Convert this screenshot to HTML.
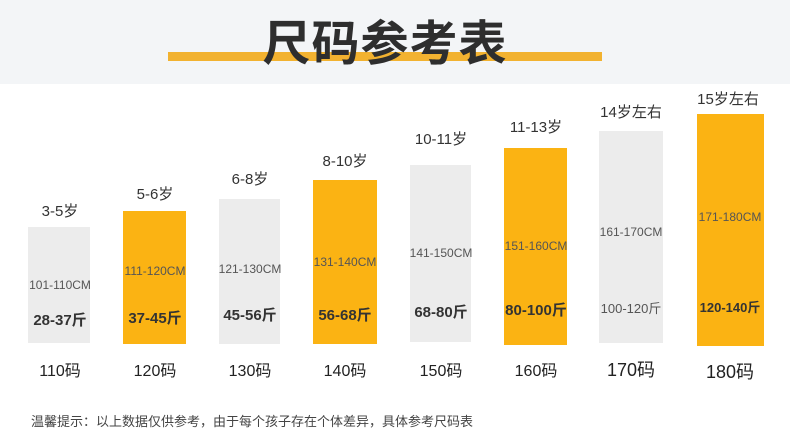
<!DOCTYPE html>
<html><head><meta charset="utf-8"><style>
body{margin:0;width:790px;height:444px;background:#fff;position:relative;overflow:hidden;font-family:"Liberation Sans","Noto Sans CJK SC",sans-serif;}
.hd{position:absolute;left:0;top:0;width:790px;height:84px;background:#f3f5f7}
.ul{position:absolute;left:168px;top:52px;width:434px;height:9px;background:#f2b230}
.tt{position:absolute;left:0;width:770px;top:4px;text-align:center;font-size:48px;font-weight:bold;color:#2e2e2e;letter-spacing:1px}
.b{position:absolute;}
.g{background:#ececec}.o{background:#fbb313}
.t{position:absolute;white-space:nowrap;transform:translateX(-50%);color:#333}
.cm{font-size:12px;color:#555}
.kg{font-size:15px;font-weight:bold;color:#333}
.ag{font-size:15px;color:#333}
.sz{font-size:16px;color:#222}
</style></head><body>
<div class="hd"></div><div class="ul"></div>
<div class="tt">尺码参考表</div>

<div class="b g" style="left:28px;top:227px;width:62px;height:116px"></div>
<div class="b o" style="left:123px;top:211px;width:63px;height:133px"></div>
<div class="b g" style="left:219px;top:199px;width:61px;height:145px"></div>
<div class="b o" style="left:313px;top:180px;width:64px;height:164px"></div>
<div class="b g" style="left:410px;top:165px;width:61px;height:177px"></div>
<div class="b o" style="left:504px;top:148px;width:63px;height:197px"></div>
<div class="b g" style="left:599px;top:131px;width:64px;height:212px"></div>
<div class="b o" style="left:697px;top:114px;width:67px;height:232px"></div>

<div class="t ag" style="left:60px;top:200px">3-5岁</div>
<div class="t ag" style="left:155px;top:183px">5-6岁</div>
<div class="t ag" style="left:250px;top:168px">6-8岁</div>
<div class="t ag" style="left:345px;top:150px">8-10岁</div>
<div class="t ag" style="left:441px;top:128px">10-11岁</div>
<div class="t ag" style="left:536px;top:116px">11-13岁</div>
<div class="t ag" style="left:631px;top:101px">14岁左右</div>
<div class="t ag" style="left:728px;top:88px">15岁左右</div>

<div class="t cm" style="left:60px;top:278px">101-110CM</div>
<div class="t cm" style="left:155px;top:264px">111-120CM</div>
<div class="t cm" style="left:250px;top:262px">121-130CM</div>
<div class="t cm" style="left:345px;top:255px">131-140CM</div>
<div class="t cm" style="left:441px;top:246px">141-150CM</div>
<div class="t cm" style="left:536px;top:239px">151-160CM</div>
<div class="t cm" style="left:631px;top:225px">161-170CM</div>
<div class="t cm" style="left:730px;top:210px">171-180CM</div>

<div class="t kg" style="left:60px;top:309px">28-37斤</div>
<div class="t kg" style="left:155px;top:307px">37-45斤</div>
<div class="t kg" style="left:250px;top:304px">45-56斤</div>
<div class="t kg" style="left:345px;top:304px">56-68斤</div>
<div class="t kg" style="left:441px;top:301px">68-80斤</div>
<div class="t kg" style="left:536px;top:299px">80-100斤</div>
<div class="t cm" style="left:631px;top:298px;font-size:13px">100-120斤</div>
<div class="t kg" style="left:730px;top:297px;font-size:13px">120-140斤</div>

<div class="t sz" style="left:60px;top:357px">110码</div>
<div class="t sz" style="left:155px;top:357px">120码</div>
<div class="t sz" style="left:250px;top:357px">130码</div>
<div class="t sz" style="left:345px;top:357px">140码</div>
<div class="t sz" style="left:441px;top:357px">150码</div>
<div class="t sz" style="left:536px;top:357px">160码</div>
<div class="t sz" style="left:631px;top:356px;font-size:18px">170码</div>
<div class="t sz" style="left:730px;top:358px;font-size:18px">180码</div>

<div style="position:absolute;left:31px;top:411px;font-size:13px;color:#444;white-space:nowrap">温馨提示：以上数据仅供参考，由于每个孩子存在个体差异，具体参考尺码表</div>
</body></html>
